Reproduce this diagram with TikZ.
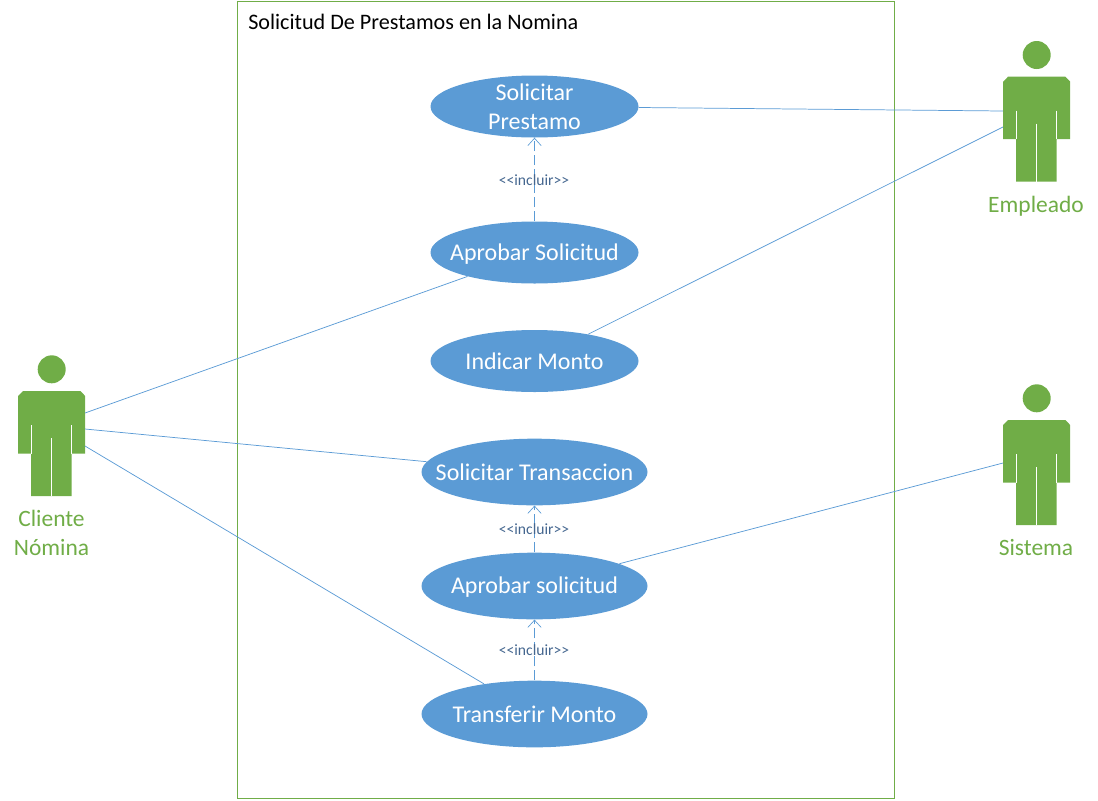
\documentclass[tikz,border=0pt]{standalone}
\usepackage{fontspec}
\setmainfont{Carlito}
\usetikzlibrary{shapes.geometric,arrows.meta}
\definecolor{ublue}{HTML}{5B9BD5}
\definecolor{ugreen}{HTML}{70AD47}
\definecolor{uslate}{HTML}{44668F}
\tikzset{
  x=0.75pt,y=-0.75pt,
  usecase/.style={ellipse,fill=ublue,inner sep=0pt},
  uctext/.style={text=white,inner sep=0pt,align=center,font=\fontsize{18}{21.75}\selectfont},
  small/.style={usecase,minimum width=156pt,minimum height=46.5pt},
  big/.style={usecase,minimum width=169.5pt,minimum height=50pt},
  assoc/.style={draw=ublue,line width=0.55pt},
  incl/.style={draw=ublue,line width=0.55pt,dash pattern=on 8pt off 2.5pt,-{Straight Barb[length=5.5pt,width=10pt,line width=0.5pt]}},
  incllabel/.style={text=uslate,inner sep=0pt,font=\fontsize{11.7}{14}\selectfont},
  actorname/.style={text=ugreen,inner sep=0pt,align=center,font=\fontsize{17.6}{21.75}\selectfont},
  slit/.style={draw=white,line width=0.6pt},
  actor/.pic={
    \fill[ugreen] (0,-21.7) circle[radius=14];
    \fill[ugreen] (-28.7,0) -- (28.7,0) -- (33.5,5) -- (33.5,62.5) -- (20,62.5) -- (20,105) -- (-20.7,105) -- (-20.7,62.5) -- (-33.5,62.5) -- (-33.5,5) -- cycle;
    \draw[slit] (-20.7,34) -- (-20.7,62.5);
    \draw[slit] (20,34) -- (20,62.5);
    \draw[slit] (0,47) -- (0,105);
  }
}
\begin{document}
\begin{tikzpicture}
\useasboundingbox (0,0) rectangle (1098,800);
\node[draw=ugreen,line width=0.55pt,minimum width=492.75pt,minimum height=597.75pt,inner sep=0pt] (frame) at (565.5,399.5) {};
\node[anchor=west,inner sep=0pt,font=\fontsize{16.6}{20}\selectfont] (title) at (248,21.5) {Solicitud De Prestamos en la Nomina};

\node[small,label={[uctext]center:Solicitar\\Prestamo}] (sp) at (534.5,106.5) {};
\node[small,label={[uctext,yshift=-1.5pt]center:Aprobar Solicitud}] (as) at (534.5,252.5) {};
\node[small,label={[uctext]center:Indicar Monto}] (im) at (534.5,361) {};
\node[big,label={[uctext]center:Solicitar Transaccion}] (st) at (534.5,472) {};
\node[big,label={[uctext,yshift=-0.75pt]center:Aprobar solicitud}] (ap) at (534.5,586) {};
\node[big,label={[uctext]center:Transferir Monto}] (tm) at (534.5,714) {};

\pic at (51.7,391) {actor};
\pic at (1036.7,76.7) {actor};
\pic at (1036.7,420) {actor};

\node[actorname] (cliente) at (51.5,533) {Cliente\\Nómina};
\node[actorname] (empleado) at (1036,206) {Empleado};
\node[actorname] (sistema) at (1036,547.5) {Sistema};

\coordinate (c1) at (85,413);
\coordinate (c2) at (85,429);
\coordinate (c3) at (85,446);
\coordinate (e1) at (1003,111);
\coordinate (e2) at (1003,127);
\coordinate (s1) at (1003,463);

\draw[assoc] (sp) -- (e1);
\draw[assoc] (im) -- (e2);
\draw[assoc] (as) -- (c1);
\draw[assoc] (st) -- (c2);
\draw[assoc] (tm) -- (c3);
\draw[assoc] (ap) -- (s1);

\draw[incl] (as) -- (sp);
\draw[incl] (ap) -- (st);
\draw[incl] (tm) -- (ap);

\node[incllabel] (l1) at (534,180) {<{}<incluir>{}>};
\node[incllabel] (l2) at (534,529) {<{}<incluir>{}>};
\node[incllabel] (l3) at (534,650) {<{}<incluir>{}>};
\end{tikzpicture}
\end{document}
